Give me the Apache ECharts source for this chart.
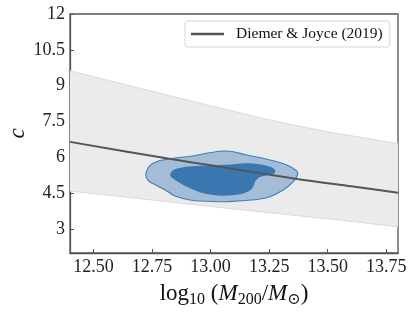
<!DOCTYPE html>
<html><head><meta charset="utf-8">
<script src="https://cdn.jsdelivr.net/npm/echarts@6/dist/echarts.min.js"></script>
<style>html,body{margin:0;padding:0;background:#fff}#c{width:415px;height:312px}</style>
</head><body><div id="c"></div>
<script>
const xTicks = [12.5, 12.75, 13.0, 13.25, 13.5, 13.75];
const yTicks = [3, 4.5, 6, 7.5, 9, 10.5, 12];
const upperMass = [12.4, 12.785, 12.955, 13.097, 13.24, 13.382, 13.524, 13.666, 13.8];
const bandUpper = [9.62, 8.68, 8.27, 7.93, 7.60, 7.30, 7.03, 6.80, 6.57];
const lowerMass = [12.4, 12.785, 13.07, 13.5, 13.8];
const bandLower = [4.59, 4.18, 3.87, 3.43, 3.10];
const modelMass = [12.4, 12.83, 13.0, 13.37, 13.6, 13.8];
const modelC = [6.65, 5.93, 5.67, 5.10, 4.79, 4.52];
const outerMass = [12.724,12.734,12.770,12.813,12.848,12.912,12.983,13.069,13.147,13.211,13.254,13.310,13.353,13.370,13.368,13.325,13.240,13.154,13.097,13.054,12.983,12.926,12.841,12.784,12.750,12.733];
const outerC    = [5.264,5.025,4.824,4.594,4.385,4.218,4.167,4.146,4.197,4.259,4.356,4.636,4.983,5.243,5.431,5.682,5.921,6.100,6.238,6.268,6.172,6.059,5.962,5.870,5.724,5.556];
const innerMass = [12.827,12.840,12.869,12.912,12.969,13.053,13.126,13.164,13.182,13.190,13.211,13.271,13.275,13.254,13.182,13.097,13.040,12.955,12.898,12.869,12.841];
const innerC    = [5.264,5.117,4.929,4.707,4.498,4.397,4.456,4.594,4.774,4.983,5.180,5.326,5.473,5.611,5.745,5.715,5.682,5.653,5.611,5.556,5.473];
const legendLabel = 'Diemer & Joyce (2019)';

const serif = '"Liberation Serif", "DejaVu Serif", serif';
const chart = echarts.init(document.getElementById('c'), null, {renderer: 'canvas'});

function polySeries(name, xs, ys, style, z, smooth) {
  return {
    type: 'custom', name: name, z: z, silent: true,
    data: [0],
    renderItem: function (params, api) {
      const pts = xs.map((x, i) => api.coord([x, ys[i]]));
      return {type: 'polygon', shape: {points: pts, smooth: smooth}, style: style};
    }
  };
}
function bandSeries() {
  return {
    type: 'custom', name: 'band', z: 1, silent: true, data: [0],
    renderItem: function (params, api) {
      const up = upperMass.map((x, i) => api.coord([x, bandUpper[i]]));
      const lo = lowerMass.map((x, i) => api.coord([x, bandLower[i]]));
      return {type: 'group', children: [
        {type: 'polygon', shape: {points: up.concat(lo.slice().reverse())}, style: {fill: '#ebebeb', stroke: null}},
        {type: 'polyline', shape: {points: up}, style: {stroke: '#dadada', lineWidth: 1, fill: null}},
        {type: 'polyline', shape: {points: lo}, style: {stroke: '#dadada', lineWidth: 1, fill: null}}
      ]};
    }
  };
}

chart.setOption({
  animation: false,
  grid: {left: 70, top: 14, right: 17, bottom: 59, containLabel: false, outerBoundsMode: 'none',
         show: true, borderColor: '#555', borderWidth: 1.3, backgroundColor: 'transparent'},
  legend: {
    left: 185, top: 21, orient: 'horizontal',
    backgroundColor: '#fff', borderColor: '#d6d6d6', borderWidth: 1, borderRadius: 3,
    padding: [5, 7, 5, 6],
    itemWidth: 33, itemHeight: 2.5,
    data: [{name: legendLabel, icon: 'rect'}],
    textStyle: {fontFamily: serif, fontSize: 15.5, color: '#111', padding: [0, 0, 0, 7]}
  },
  xAxis: {
    type: 'value', min: 12.4, max: 13.8,
    name: '{n|log}{s|10}{n| (}{i|M}{s|200}{n|/}{i|M}{s|⊙}{n|)}',
    nameLocation: 'middle', nameGap: 27, nameMoveOverlap: false,
    nameTextStyle: {
      rich: {
        n: {fontFamily: serif, fontSize: 23, color: '#111'},
        i: {fontFamily: serif, fontSize: 23, fontStyle: 'italic', color: '#111'},
        s: {fontFamily: serif, fontSize: 16, color: '#111', padding: [12, 0, 0, 0]}
      }
    },
    axisLine: {show: true, lineStyle: {color: '#555', width: 1.3}},
    axisTick: {show: true, inside: true, length: 4, lineStyle: {color: '#555'}, customValues: xTicks},
    axisLabel: {customValues: xTicks, formatter: v => v.toFixed(2), fontFamily: serif, fontSize: 18, color: '#222', margin: 5},
    splitLine: {show: false}
  },
  yAxis: {
    type: 'value', min: 2, max: 12,
    name: 'c', nameLocation: 'middle', nameGap: 41, nameRotate: 90, nameMoveOverlap: false,
    nameTextStyle: {fontFamily: serif, fontSize: 23, fontStyle: 'italic', color: '#111'},
    axisLine: {show: true, lineStyle: {color: '#555', width: 1.3}},
    axisTick: {show: true, inside: true, length: 4, lineStyle: {color: '#555'}, customValues: yTicks},
    axisLabel: {customValues: yTicks, formatter: v => String(v), fontFamily: serif, fontSize: 18, color: '#222', margin: 5},
    splitLine: {show: false}
  },
  series: [
    bandSeries(),
    polySeries('outer', outerMass, outerC, {fill: '#a5bcd7', stroke: '#3a7dbf', lineWidth: 1.1}, 2, 0.35),
    polySeries('inner', innerMass, innerC, {fill: '#3877b0', stroke: null}, 3, 0.35),
    {
      type: 'line', name: legendLabel, z: 5,
      data: modelMass.map((x, i) => [x, modelC[i]]),
      smooth: 0.3, symbol: 'none',
      lineStyle: {color: '#555', width: 2},
      itemStyle: {color: '#555'}
    }
  ]
});
</script></body></html>
